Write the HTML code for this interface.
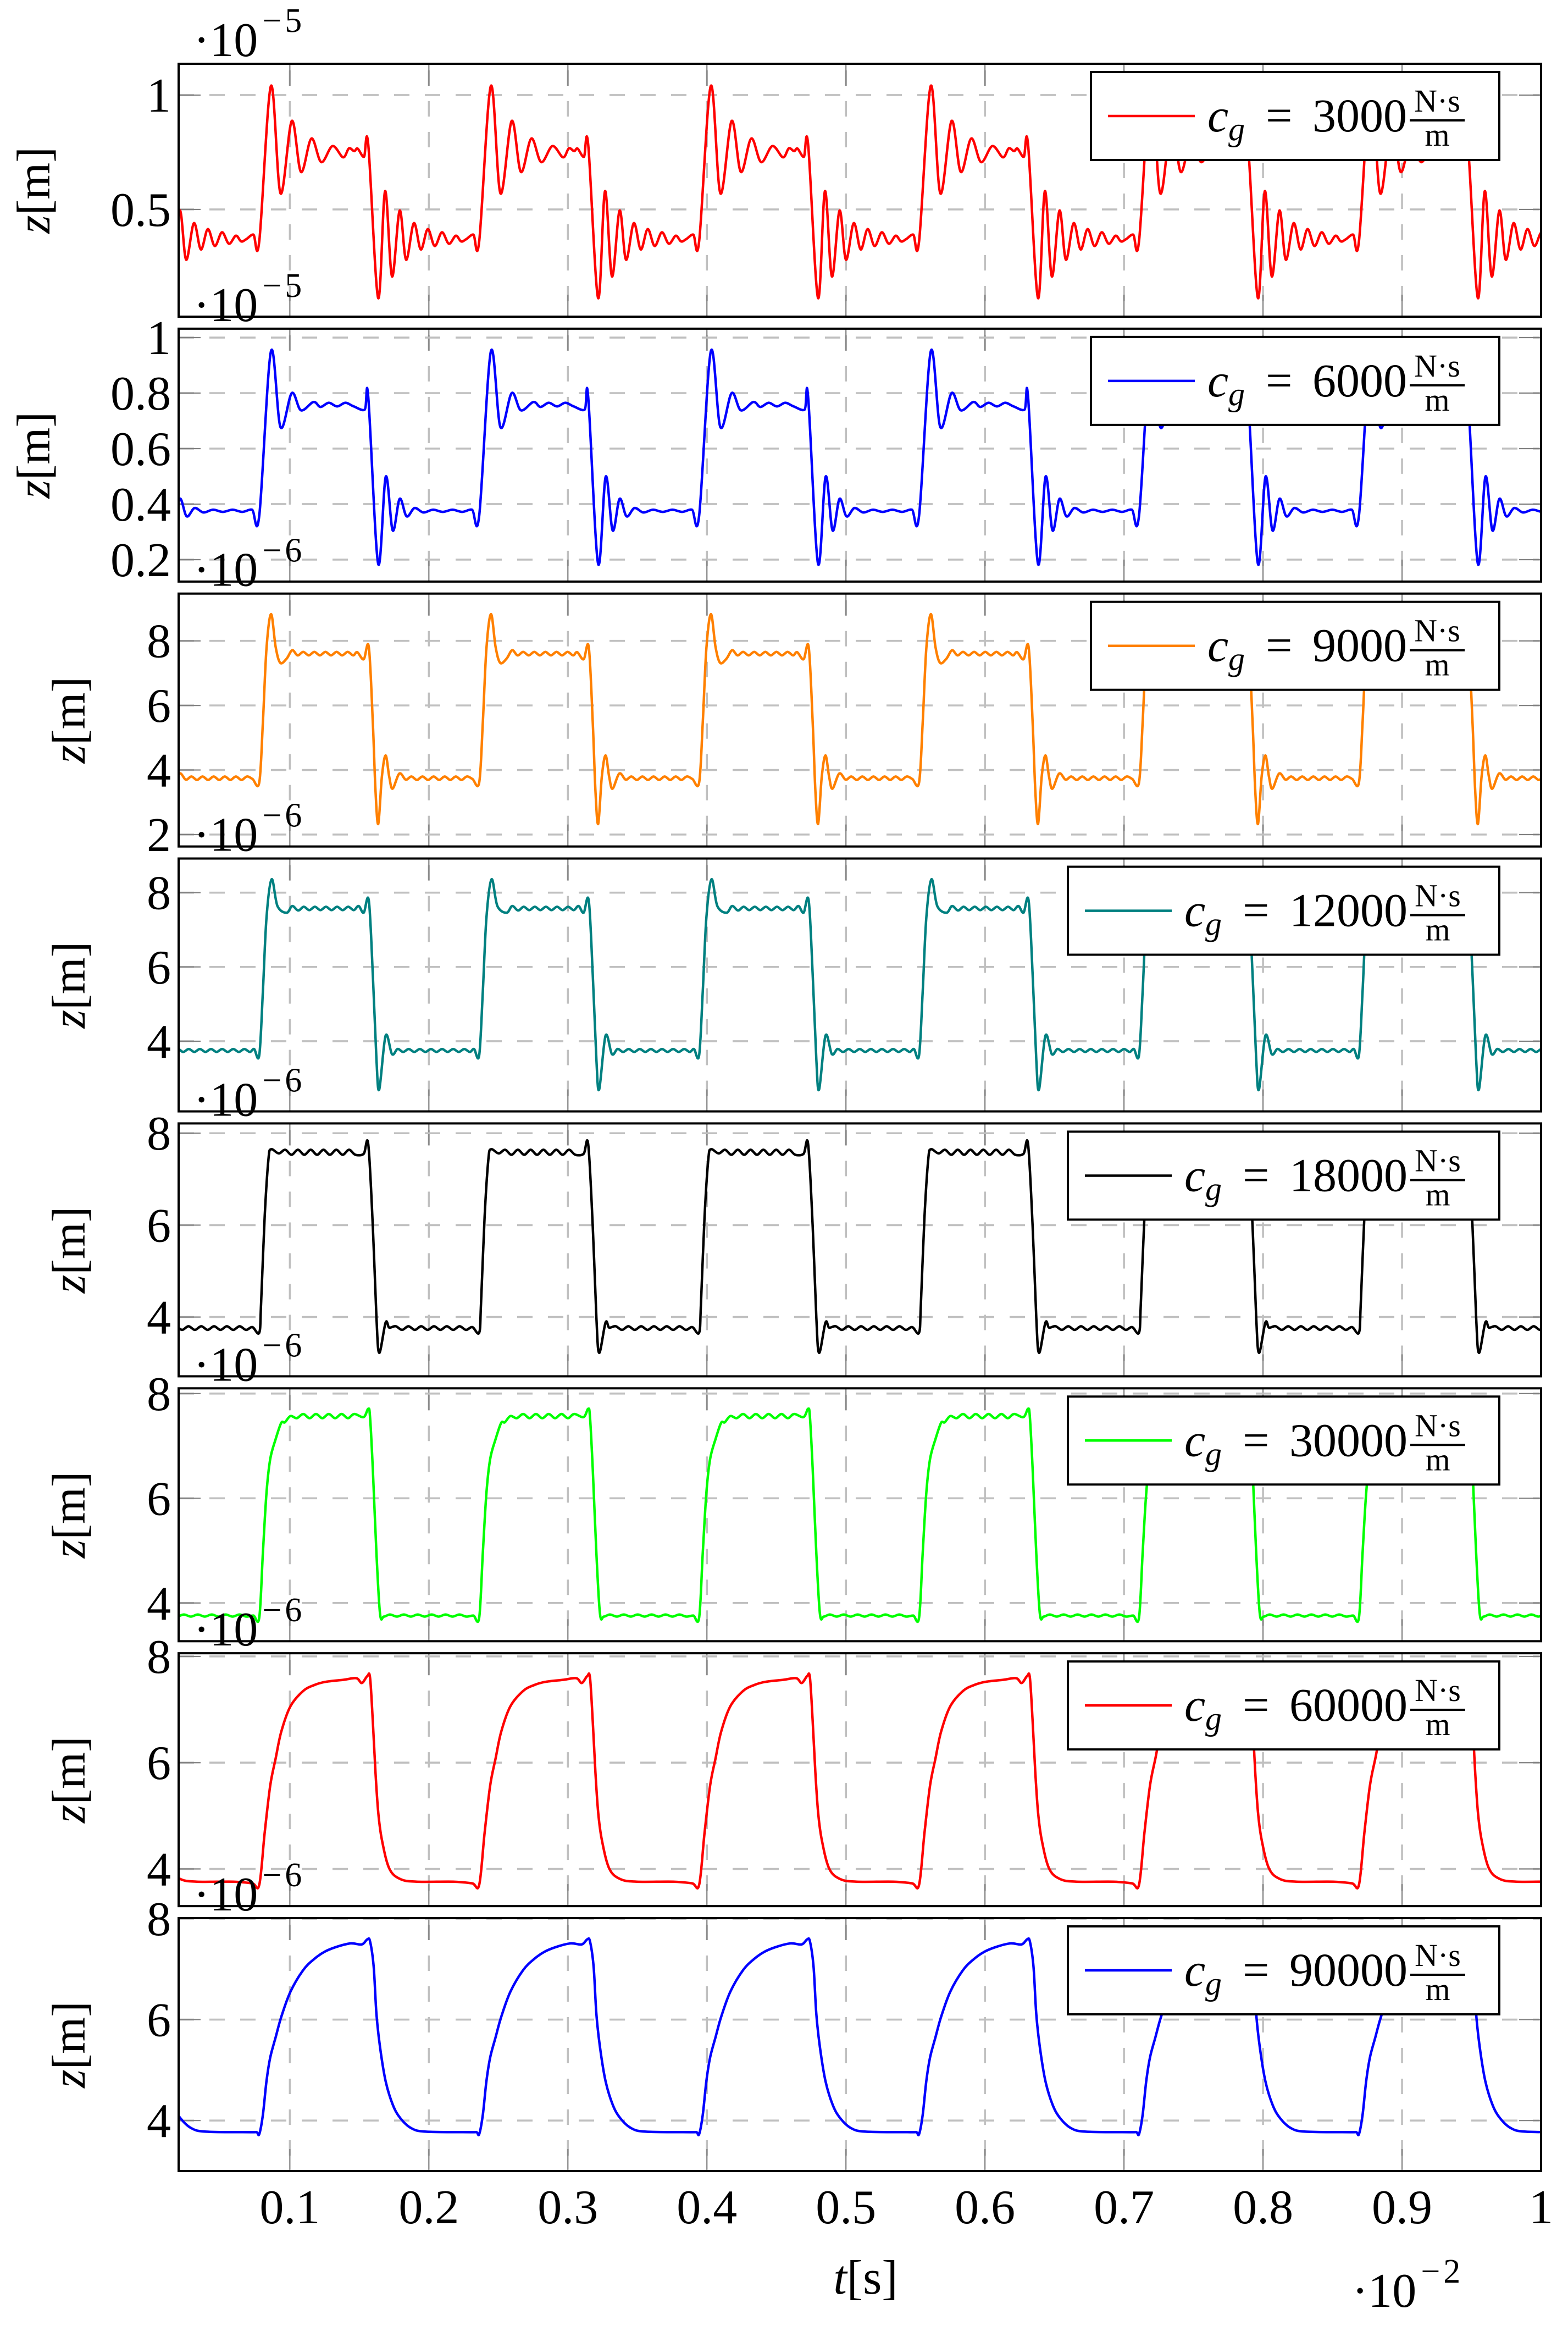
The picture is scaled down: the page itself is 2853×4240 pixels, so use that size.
<!DOCTYPE html>
<html><head><meta charset="utf-8">
<style>
html,body{margin:0;padding:0;background:#fff;}
svg{display:block;font-family:"Liberation Serif","DejaVu Serif",serif;}
</style></head>
<body>
<svg id="chart" xmlns="http://www.w3.org/2000/svg" width="2853" height="4240" viewBox="0 0 2853 4240">
<rect x="0" y="0" width="2853" height="4240" fill="#fff"/>
<g id="root"></g>
</svg>
<script>
// ---- shared x axis data ----
const xTickValues=[0.1,0.2,0.3,0.4,0.5,0.6,0.7,0.8,0.9,1.0];
const xTickLabels=["0.1","0.2","0.3","0.4","0.5","0.6","0.7","0.8","0.9","1"];
const period=0.1582;
// ---- one cycle per panel (time ·1e-2 s, value) ----
const p1T=[0.078,0.0864,0.0933,0.1014,0.108,0.1155,0.1226,0.1307,0.1383,0.1425,0.1463,0.1488,0.1533,0.1564,0.1635,0.1685,0.1735,0.179,0.1836,0.1892,0.1942,0.1992,0.2042,0.2094,0.2144,0.2194,0.2232,0.2269,0.232,0.2362];
const p1V=[0.36,1.04,0.57,0.887,0.664,0.81,0.707,0.777,0.728,0.767,0.755,0.766,0.73,0.784,0.113,0.58,0.207,0.495,0.28,0.44,0.325,0.414,0.34,0.40,0.35,0.385,0.36,0.37,0.39,0.36];
const p2T=[0.078,0.0864,0.0933,0.1014,0.108,0.117,0.122,0.128,0.134,0.140,0.146,0.1538,0.1564,0.1635,0.169,0.174,0.179,0.184,0.1897,0.196,0.203,0.21,0.217,0.224,0.231,0.2362];
const p2V=[0.358,0.95,0.677,0.80,0.738,0.768,0.75,0.765,0.752,0.765,0.752,0.74,0.786,0.186,0.499,0.305,0.419,0.356,0.386,0.37,0.38,0.372,0.38,0.372,0.38,0.358];
const p3T=[0.078,0.0806,0.0832,0.0865,0.0898,0.0931,0.0977,0.1017,0.1056,0.1096,0.1136,0.1176,0.1216,0.1256,0.1296,0.1336,0.1376,0.1416,0.1456,0.1485,0.1531,0.1568,0.1597,0.1616,0.1636,0.1662,0.1689,0.1715,0.1739,0.1788,0.1834,0.1874,0.1914,0.1954,0.1994,0.2034,0.2074,0.2114,0.2154,0.2194,0.2234,0.2274,0.2314,0.2362];
const p3V=[3.61,5.46,7.76,8.83,7.81,7.32,7.45,7.71,7.55,7.66,7.55,7.66,7.55,7.66,7.55,7.66,7.55,7.66,7.55,7.65,7.43,7.81,5.46,3.37,2.33,3.79,4.45,3.79,3.42,3.89,3.70,3.80,3.69,3.80,3.69,3.80,3.69,3.80,3.69,3.80,3.69,3.80,3.72,3.61];
const p4T=[0.078,0.0806,0.0832,0.0869,0.0911,0.0977,0.1017,0.106,0.110,0.114,0.118,0.122,0.126,0.130,0.134,0.138,0.142,0.146,0.1495,0.1531,0.1568,0.1597,0.1623,0.1643,0.1689,0.1735,0.1775,0.1815,0.1855,0.1895,0.1935,0.1975,0.2015,0.2055,0.2095,0.2135,0.2175,0.2215,0.2255,0.2295,0.2325,0.2362];
const p4V=[3.62,5.33,7.32,8.36,7.64,7.46,7.64,7.52,7.62,7.53,7.62,7.53,7.62,7.53,7.62,7.53,7.62,7.53,7.64,7.46,7.79,5.78,3.51,2.70,4.15,3.65,3.79,3.71,3.79,3.71,3.79,3.71,3.79,3.71,3.79,3.71,3.79,3.71,3.79,3.71,3.79,3.62];
const p5T=[0.078,0.0793,0.0819,0.0846,0.0865,0.092,0.0966,0.1012,0.1058,0.1104,0.115,0.1196,0.1242,0.1288,0.1334,0.138,0.1426,0.1472,0.1531,0.1564,0.1597,0.1623,0.1643,0.1689,0.1715,0.1761,0.1807,0.1853,0.1899,0.1945,0.1991,0.2037,0.2083,0.2129,0.2175,0.2221,0.2267,0.2313,0.2362];
const p5V=[3.66,4.28,6.18,7.43,7.65,7.56,7.64,7.53,7.64,7.53,7.64,7.53,7.64,7.53,7.64,7.53,7.64,7.53,7.55,7.76,5.96,3.99,3.22,3.88,3.77,3.80,3.72,3.80,3.72,3.80,3.72,3.80,3.72,3.80,3.72,3.80,3.72,3.78,3.66];
const p6T=[0.078,0.0806,0.0832,0.0859,0.0898,0.0938,0.0964,0.1004,0.105,0.1096,0.1142,0.1188,0.1234,0.128,0.1326,0.1372,0.1418,0.1464,0.1531,0.1564,0.1577,0.1597,0.1623,0.1649,0.1676,0.172,0.177,0.182,0.187,0.192,0.197,0.202,0.207,0.212,0.217,0.222,0.227,0.232,0.2362];
const p6V=[3.74,4.95,6.1,6.75,7.13,7.44,7.45,7.57,7.53,7.61,7.53,7.61,7.53,7.61,7.53,7.61,7.53,7.61,7.55,7.71,7.55,6.55,4.95,3.79,3.74,3.78,3.74,3.78,3.74,3.78,3.74,3.78,3.74,3.78,3.74,3.78,3.74,3.76,3.72];
const p7T=[0.078,0.0819,0.0859,0.0898,0.0938,0.1004,0.1096,0.1175,0.1254,0.1386,0.1478,0.1518,0.1557,0.1577,0.1597,0.1616,0.1636,0.1662,0.1715,0.1794,0.1913,0.2176,0.2310,0.2362];
const p7V=[3.70,4.68,5.57,6.08,6.58,7.06,7.35,7.46,7.52,7.56,7.59,7.50,7.63,7.60,6.77,5.82,5.06,4.55,4.01,3.81,3.76,3.76,3.73,3.70];
const p8T=[0.078,0.0806,0.0832,0.0859,0.0898,0.0938,0.1004,0.1096,0.1175,0.1254,0.1346,0.1438,0.1518,0.1557,0.1577,0.1603,0.1623,0.1649,0.1689,0.1741,0.1794,0.1873,0.1979,0.2300,0.2343,0.2362];
const p8V=[3.73,4.11,4.78,5.25,5.65,6.05,6.55,6.98,7.20,7.35,7.45,7.51,7.49,7.59,7.55,7.05,6.11,5.45,4.78,4.31,4.05,3.85,3.78,3.77,3.77,3.73];
// ---- per-panel axis / legend data ----
const seriesT=[p1T,p2T,p3T,p4T,p5T,p6T,p7T,p8T];
const seriesV=[p1V,p2V,p3V,p4V,p5V,p6V,p7V,p8V];
const yMins=[0.031,0.121,1.63,2.11,2.71,3.27,3.30,3.00];
const yMaxs=[1.137,1.032,9.465,8.92,8.213,8.10,8.06,8.01];
const yTickValues=[[0.5,1],[0.2,0.4,0.6,0.8,1],[2,4,6,8],[4,6,8],[4,6,8],[4,6,8],[4,6,8],[4,6,8]];
const yTickLabels=[["0.5","1"],["0.2","0.4","0.6","0.8","1"],["2","4","6","8"],["4","6","8"],["4","6","8"],["4","6","8"],["4","6","8"],["4","6","8"]];
const exponents=["5","5","6","6","6","6","6","6"];
const dampingLabels=["3000","6000","9000","12000","18000","30000","60000","90000"];
const seriesColors=["#ff0000","#0000ff","#ff8000","#008080","#000000","#00ff00","#ff0000","#0000ff"];

// ---- layout ----
const L=325,R=2804,TOP0=116,PITCH=481.86,PH=460,XMIN=0.02,XMAX=1.0;
const NS="http://www.w3.org/2000/svg";
const root=document.getElementById('root');
function mk(tag,attrs,parent){const e=document.createElementNS(NS,tag);for(const k in attrs)e.setAttribute(k,attrs[k]);(parent||root).appendChild(e);return e;}
function xScale(t){return L+(t-XMIN)/(XMAX-XMIN)*(R-L);}
function crPath(pts){
  let d="M"+pts[0][0].toFixed(2)+","+pts[0][1].toFixed(2);
  for(let i=0;i<pts.length-1;i++){
    const p0=pts[Math.max(0,i-1)],p1=pts[i],p2=pts[i+1],p3=pts[Math.min(pts.length-1,i+2)];
    const c1x=p1[0]+(p2[0]-p0[0])/6,c1y=p1[1]+(p2[1]-p0[1])/6;
    const c2x=p2[0]-(p3[0]-p1[0])/6,c2y=p2[1]-(p3[1]-p1[1])/6;
    d+="C"+c1x.toFixed(2)+","+c1y.toFixed(2)+" "+c2x.toFixed(2)+","+c2y.toFixed(2)+" "+p2[0].toFixed(2)+","+p2[1].toFixed(2);
  }
  return d;
}
const defs=mk('defs',{});
for(let i=0;i<8;i++){
  const top=TOP0+i*PITCH,bot=top+PH;
  const ymin=yMins[i],ymax=yMaxs[i];
  const yScale=v=>bot-(v-ymin)/(ymax-ymin)*PH;
  const g=mk('g',{});
  
  
  const cp=mk('clipPath',{id:'clip'+i},defs);
  mk('rect',{x:L,y:top,width:R-L,height:PH},cp);
  const grid=mk('g',{},g);
  
  
  xTickValues.forEach(t=>{
    if(t>=XMAX-1e-9)return;
    const x=xScale(t);
    mk('line',{x1:x,y1:top,x2:x,y2:bot,stroke:'#c0c0c0','stroke-width':3.6,'stroke-dasharray':'28 28','stroke-dashoffset':-12},grid);
    mk('line',{x1:x,y1:top,x2:x,y2:top+40,stroke:'#808080','stroke-width':2.2},grid);
    mk('line',{x1:x,y1:bot,x2:x,y2:bot-40,stroke:'#808080','stroke-width':2.2},grid);
  });
  yTickValues[i].forEach((v,j)=>{
    const y=yScale(v);
    mk('line',{x1:L,y1:y,x2:R,y2:y,stroke:'#c0c0c0','stroke-width':3.6,'stroke-dasharray':'28 28'},grid);
    mk('line',{x1:L,y1:y,x2:L+40,y2:y,stroke:'#808080','stroke-width':2.2},grid);
    mk('line',{x1:R,y1:y,x2:R-40,y2:y,stroke:'#808080','stroke-width':2.2},grid);
    const tl=mk('text',{x:L-14,y:y+30,'font-size':88,'text-anchor':'end',fill:'#000'},g);
    
    
    tl.textContent=yTickLabels[i][j];
  });
  const T=seriesT[i],V=seriesV[i];
  const pts=[];
  for(let k=-1;k<=6;k++){
    for(let j=0;j<T.length;j++){
      if(k>-1&&j===0)continue;
      const t=T[j]+k*period;
      if(t<XMIN-0.03||t>XMAX+0.03)continue;
      pts.push([xScale(t),yScale(V[j])]);
    }
  }
  const line=mk('path',{d:crPath(pts),fill:'none',stroke:seriesColors[i],'stroke-width':4.5,'stroke-linejoin':'round','clip-path':'url(#clip'+i+')'},g);
  
  
  const n=dampingLabels[i].length;
  const lw=785-(5-n)*42, lx=2728-lw, ly=top+15, lh=160;
  const lg=mk('g',{},g);
  
  
  mk('rect',{x:lx,y:ly,width:lw,height:lh,fill:'#fff',stroke:'#000','stroke-width':4},lg);
  mk('line',{x1:lx+31,y1:ly+80,x2:lx+189,y2:ly+80,stroke:seriesColors[i],'stroke-width':4.5},lg);
  const c=mk('text',{x:lx+212,y:ly+108,'font-size':86,'font-style':'italic'},lg);c.textContent='c';
  const gsub=mk('text',{x:lx+250,y:ly+124,'font-size':60,'font-style':'italic'},lg);gsub.textContent='g';
  const eq=mk('text',{x:lx+318,y:ly+108,'font-size':86},lg);eq.textContent='=';
  const num=mk('text',{x:lx+403,y:ly+108,'font-size':86},lg);num.textContent=dampingLabels[i];
  const fc=lx+403+n*43+55;
  const nu=mk('text',{x:fc,y:ly+72,'font-size':58,'text-anchor':'middle'},lg);nu.textContent='N·s';
  mk('line',{x1:fc-50,y1:ly+88,x2:fc+50,y2:ly+88,stroke:'#000','stroke-width':4},lg);
  const de=mk('text',{x:fc,y:ly+134,'font-size':58,'text-anchor':'middle'},lg);de.textContent='m';
  const fr=mk('rect',{x:L,y:top,width:R-L,height:PH,fill:'none',stroke:'#000','stroke-width':4},g);
  
  
  const mt=mk('text',{x:352,y:top-14,'font-size':88},g);
  
  
  const ts1=mk('tspan',{},mt);ts1.textContent='·10';
  const ts2=mk('tspan',{dx:8,dy:-44,'font-size':62},mt);ts2.textContent='−';
  const ts3=mk('tspan',{dx:6,'font-size':62},mt);ts3.textContent=exponents[i];
  const yc=top+PH/2, yx=(i<2?62:126);
  const yl=mk('text',{x:0,y:0,'font-size':86,'text-anchor':'middle',transform:'translate('+(yx+28)+','+yc+') rotate(-90)'},g);
  
  
  const z=mk('tspan',{'font-style':'italic'},yl);z.textContent='z';
  const zm=mk('tspan',{},yl);zm.textContent='[m]';
}
const lastBot=TOP0+7*PITCH+PH;
xTickValues.forEach((t,j)=>{
  const tl=mk('text',{x:xScale(t),y:lastBot+95,'font-size':88,'text-anchor':'middle'});
  
  
  tl.textContent=xTickLabels[j];
});
const xt=mk('text',{x:1575,y:4172,'font-size':88,'text-anchor':'middle'});


const xt1=mk('tspan',{'font-style':'italic'},xt);xt1.textContent='t';
const xt2=mk('tspan',{},xt);xt2.textContent='[s]';
const xm=mk('text',{x:2460,y:4196,'font-size':88});


const xm1=mk('tspan',{},xm);xm1.textContent='·10';
const xm2=mk('tspan',{dx:8,dy:-44,'font-size':62},xm);xm2.textContent='−';
const xm3=mk('tspan',{dx:6,'font-size':62},xm);xm3.textContent='2';
</script>
</body></html>
